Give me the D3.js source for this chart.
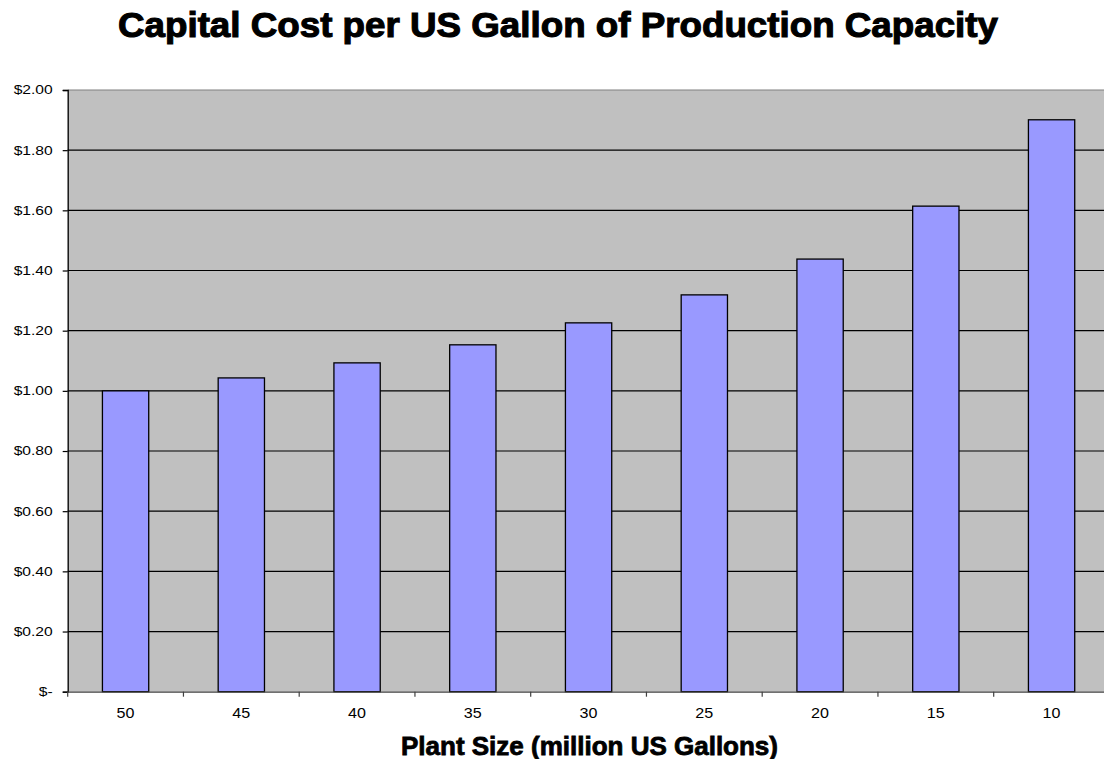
<!DOCTYPE html>
<html><head><meta charset="utf-8">
<script src="https://cdn.jsdelivr.net/npm/d3@7"></script>
<style>body{margin:0;background:#fff;} svg{display:block;} text{font-family:Arial,"Liberation Sans",sans-serif;}</style>
</head><body><svg id="c" width="1104" height="759"></svg>
<script>
const categories = ["50","45","40","35","30","25","20","15","10"];
const values = [1.00, 1.043, 1.093, 1.153, 1.226, 1.319, 1.438, 1.614, 1.901];
const yTicks = [0,0.2,0.4,0.6,0.8,1.0,1.2,1.4,1.6,1.8,2.0];
const yTickLabels = ["$-","$0.20","$0.40","$0.60","$0.80","$1.00","$1.20","$1.40","$1.60","$1.80","$2.00"];
const title = "Capital Cost per US Gallon of Production Capacity";
const xTitle = "Plant Size (million US Gallons)";

const svg = d3.select("#c");
const L = 67.7, R = 67.7 + 9*115.75, T = 90, B = 691.7;
const x = d3.scaleBand().domain(categories).range([L, R]).paddingInner(0.6).paddingOuter(0.3);
const xb = d3.scaleBand().domain(categories).range([L, R]);
const y = d3.scaleLinear().domain([0, 2]).range([B, T]);

svg.append("rect").attr("x", L).attr("y", T).attr("width", R - L).attr("height", B - T).attr("fill", "#C0C0C0");
// gridlines
svg.append("g").selectAll("line").data(yTicks.filter(d => d > 0 && d < 2)).join("line")
  .attr("x1", L).attr("x2", R).attr("y1", d => y(d)).attr("y2", d => y(d))
  .attr("stroke", "#000").attr("stroke-width", 1.2);
svg.append("line").attr("x1", L).attr("x2", R).attr("y1", T).attr("y2", T).attr("stroke", "#808080").attr("stroke-width", 1.2);

// bars
svg.append("g").selectAll("rect").data(values).join("rect")
  .attr("x", (d, i) => x(categories[i]))
  .attr("width", x.bandwidth())
  .attr("y", d => y(d))
  .attr("height", d => B - y(d))
  .attr("fill", "#9999FF").attr("stroke", "#000").attr("stroke-width", 1.3);

// y axis
const yAxis = d3.axisLeft(y).tickValues(yTicks).tickSize(5).tickPadding(8)
  .tickFormat((d, i) => yTickLabels[i]);
const gy = svg.append("g").attr("transform", `translate(${L},0)`).call(yAxis);
gy.select(".domain").attr("stroke", "#000").attr("stroke-width", 1.3);
gy.selectAll(".tick line").attr("stroke", "#000").attr("stroke-width", 1.2);
gy.selectAll(".tick text").attr("font-size", 12).attr("fill", "#000").attr("x", -15).attr("font-family", "Arial, 'Liberation Sans', sans-serif");

// x axis
const xAxis = d3.axisBottom(xb).tickSize(0).tickPadding(0);
const gx = svg.append("g").attr("transform", `translate(0,${B})`).call(xAxis);
gx.select(".domain").attr("stroke", "#404040").attr("stroke-width", 1.3);
gx.selectAll(".tick text").attr("font-size", 14).attr("fill", "#000").attr("y", 26).attr("dy", 0)
  .attr("font-family", "Arial, 'Liberation Sans', sans-serif");
svg.append("g").selectAll("line").data(d3.range(categories.length + 1)).join("line")
  .attr("x1", i => L + i * xb.step()).attr("x2", i => L + i * xb.step())
  .attr("y1", B).attr("y2", B + 5).attr("stroke", "#404040").attr("stroke-width", 1.2);

// stretch tick labels horizontally
function stretch(sel, f) {
  sel.each(function () {
    const w = this.getComputedTextLength();
    d3.select(this).attr("textLength", w * f).attr("lengthAdjust", "spacingAndGlyphs");
  });
}
stretch(gy.selectAll(".tick text"), 1.3);
stretch(gx.selectAll(".tick text"), 1.15);

// titles
svg.append("text").attr("x", 558).attr("y", 37).attr("text-anchor", "middle")
  .attr("font-size", 35).attr("font-weight", "bold").attr("fill", "#000")
  .attr("stroke", "#000").attr("stroke-width", 1.1)
  .attr("textLength", 880).attr("lengthAdjust", "spacingAndGlyphs").text(title);
svg.append("text").attr("x", 589.5).attr("y", 755).attr("text-anchor", "middle")
  .attr("font-size", 25).attr("font-weight", "bold").attr("fill", "#000")
  .attr("stroke", "#000").attr("stroke-width", 0.8)
  .attr("textLength", 377).attr("lengthAdjust", "spacingAndGlyphs").text(xTitle);
</script></body></html>
